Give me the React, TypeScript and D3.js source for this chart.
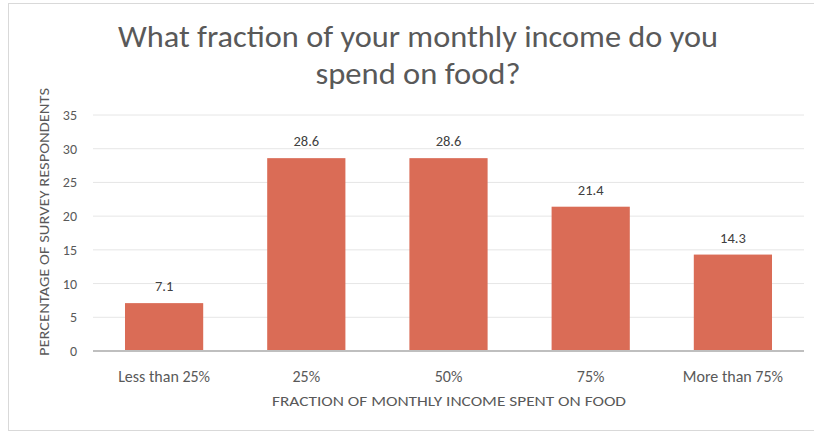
import React from 'react';
import * as d3 from 'd3';

const categories = ['Less than 25%', '25%', '50%', '75%', 'More than 75%'];
const values = [7.1, 28.6, 28.6, 21.4, 14.3];
const yTicks = [0, 5, 10, 15, 20, 25, 30, 35];

const titleLines = ['What fraction of your monthly income do you', 'spend on food?'];
const xTitle = 'FRACTION OF MONTHLY INCOME SPENT ON FOOD';
const yTitle = 'PERCENTAGE OF SURVEY RESPONDENTS';

const W = 814;
const H = 433;
const font = "Carlito, Calibri, Lato, sans-serif";
const barColor = '#DA6C56';
const grey = '#595959';

const App = () => {
  const x = d3.scaleBand<string>().domain(categories).range([93, 804]).paddingInner(0.45).paddingOuter(0.225);
  const y = d3.scaleLinear().domain([0, 35]).range([351, 115]);
  const cx = (c: string) => x(c)! + x.bandwidth() / 2;

  return (
    <svg width={W} height={H} style={{position: 'absolute', left: 0, top: 0}}>
      <rect x={0} y={0} width={W} height={H} fill="#fff" />
      <rect x={8.5} y={3.5} width={W + 10} height={427} fill="#fff" stroke="#d9d9d9" />
      <text x={418} y={47} textAnchor="middle" fontFamily={font} fontSize={30} fill={grey}
        textLength={600} lengthAdjust="spacingAndGlyphs">
        {titleLines[0]}
      </text>
      <text x={418} y={84} textAnchor="middle" fontFamily={font} fontSize={30} fill={grey}
        textLength={205} lengthAdjust="spacingAndGlyphs">
        {titleLines[1]}
      </text>
      {yTicks.map(t => (
        <g key={t}>
          {t > 0 && <line x1={93} x2={804} y1={y(t)} y2={y(t)} stroke="#e6e6e6" />}
          <text x={77} y={y(t)} dy="0.36em" textAnchor="end" fontFamily={font} fontSize={14} fill={grey}>
            {t}
          </text>
        </g>
      ))}
      {categories.map((c, i) => (
        <g key={c}>
          <rect x={x(c)} y={y(values[i])} width={x.bandwidth()} height={y(0) - y(values[i])} fill={barColor} />
          <text x={cx(c)} y={y(values[i]) - 12} textAnchor="middle" fontFamily={font} fontSize={14.5} fill="#404040">
            {values[i]}
          </text>
          <text x={cx(c)} y={382} textAnchor="middle" fontFamily={font} fontSize={16} fill={grey}>
            {c}
          </text>
        </g>
      ))}
      <line x1={93} x2={804} y1={y(0)} y2={y(0)} stroke="#bfbfbf" strokeWidth={2} />
      <text x={449} y={406} textAnchor="middle" fontFamily={font} fontSize={14} fill={grey}
        textLength={354} lengthAdjust="spacingAndGlyphs">
        {xTitle}
      </text>
      <text transform={`translate(49, 222) rotate(-90)`} textAnchor="middle" fontFamily={font} fontSize={13.5} fill={grey}
        textLength={268} lengthAdjust="spacingAndGlyphs">
        {yTitle}
      </text>
    </svg>
  );
};

export default App;
